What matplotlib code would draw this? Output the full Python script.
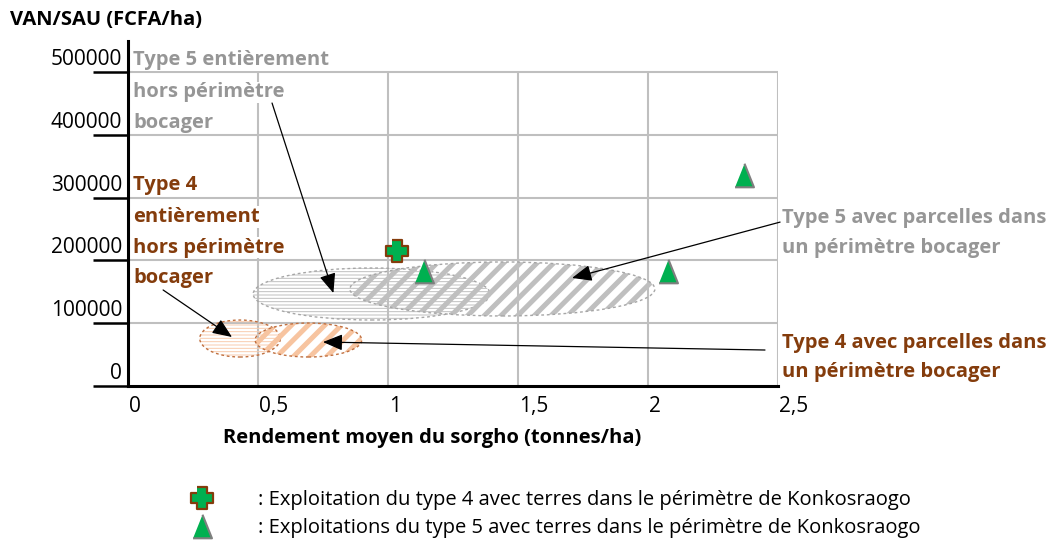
import matplotlib
matplotlib.use("Agg")
import matplotlib.pyplot as plt
from matplotlib.patches import Ellipse
from matplotlib.lines import Line2D
from matplotlib.transforms import ScaledTranslation

plt.rcParams['font.family'] = ['Open Sans', 'DejaVu Sans']

# data
x_ticks = [0, 0.5, 1, 1.5, 2, 2.5]
x_ticklabels = ["0", "0,5", "1", "1,5", "2", "2,5"]
y_ticks = [0, 100000, 200000, 300000, 400000, 500000]
y_ticklabels = ["0", "100000", "200000", "300000", "400000", "500000"]

type4_x = [1.033]
type4_y = [215000]
type5_x = [1.138, 2.077, 2.369]
type5_y = [183000, 182700, 336500]

# zones: type5 hors, type5 avec, type4 hors, type4 avec
zone_x = [0.937, 1.440, 0.431, 0.694]
zone_y = [146500, 154500, 75600, 73200]
zone_w = [0.911, 1.173, 0.31, 0.41]
zone_h = [82800, 86000, 58900, 54100]

GREEN = '#00B050'
BROWN = '#843C0C'
GRAYTXT = '#969696'
GRID = '#BFBFBF'

fig = plt.figure(figsize=(10.46, 5.43), dpi=100)
ax = fig.add_axes([128/1046, 1-386/543, 650/1046, 345.4/543])
ax.set_xlim(0, 2.5)
ax.set_ylim(0, 550000)

# grid only up to 500000
ax.hlines(y_ticks[1:], 0, 2.5, colors=GRID, lw=1.5, zorder=1)
ax.vlines(x_ticks[1:], 0, 500000, colors=GRID, lw=1.5, zorder=1)

for s in ['top', 'right']:
    ax.spines[s].set_visible(False)
for s in ['left', 'bottom']:
    ax.spines[s].set_linewidth(2.2)

ax.set_xticks(x_ticks)
ax.set_xticklabels(x_ticklabels, fontsize=15)
ax.set_yticks(y_ticks)
ax.set_yticklabels(y_ticklabels, fontsize=15)
ax.tick_params(axis='x', length=0, pad=7)
ax.tick_params(axis='y', length=25, width=1.8, pad=-20.9)
for lab in ax.get_xticklabels():
    lab.set_ha('left')
    lab.set_transform(lab.get_transform() + ScaledTranslation(0.01, 0, fig.dpi_scale_trans))
for lab in ax.get_yticklabels():
    lab.set_transform(lab.get_transform() + ScaledTranslation(0, 0.15, fig.dpi_scale_trans))

ax.set_xlabel("Rendement moyen du sorgho (tonnes/ha)", fontsize=14.5, fontweight='bold', va='center')
ax.xaxis.set_label_coords(0.468, -0.1505)
ax.set_ylabel("VAN/SAU (FCFA/ha)", fontsize=14.5, fontweight='bold', rotation=0, ha='left', va='center')
ax.yaxis.set_label_coords(-0.1815, 1.0596)

# zones
hatches = ['-----', '//', '-----', '//']
hcolors = [GRID, GRID, '#F8CBAD', '#F7C4A0']
ecolors = ['#A6A6A6', '#A6A6A6', '#C07040', '#C07040']
hlw = [0.7, 3.6, 0.7, 3.6]
for i in range(4):
    if hasattr(Ellipse, 'set_hatch_linewidth'):
        e = Ellipse((zone_x[i], zone_y[i]), zone_w[i], zone_h[i], facecolor='none',
                    edgecolor=hcolors[i], lw=0, hatch=hatches[i], zorder=2)
        e.set_hatch_linewidth(hlw[i])
    else:
        plt.rcParams['hatch.linewidth'] = hlw[i]
        e = Ellipse((zone_x[i], zone_y[i]), zone_w[i], zone_h[i], facecolor='none',
                    edgecolor=hcolors[i], lw=0, hatch=hatches[i], zorder=2)
    ax.add_patch(e)
    ax.add_patch(Ellipse((zone_x[i], zone_y[i]), zone_w[i], zone_h[i], facecolor='none',
                         edgecolor=ecolors[i], lw=1.0, ls=(0, (2, 2)), zorder=2))

# markers
a = 0.22
cross = [(-a, 0.5), (a, 0.5), (a, a), (0.5, a), (0.5, -a), (a, -a), (a, -0.5),
         (-a, -0.5), (-a, -a), (-0.5, -a), (-0.5, a), (-a, a)]
tri = [(-0.4, -0.5), (0.4, -0.5), (0, 0.5)]
ax.plot(type4_x, type4_y, ls='none', marker=cross, ms=16, mfc=GREEN, mec=BROWN, mew=1.6, zorder=5, clip_on=False)
ax.plot(type5_x, type5_y, ls='none', marker=tri, ms=17, mfc=GREEN, mec='#7F7F7F', mew=1.5, zorder=5, clip_on=False)

# annotations
arrow = dict(arrowstyle='-|>,head_length=0.6,head_width=0.25', color='black', lw=0.9,
             mutation_scale=20, shrinkA=0, shrinkB=0)
box = dict(facecolor='white', edgecolor='none', pad=0.5)

for txt, yy in zip(["Type 5 entièrement", "hors périmètre", "bocager"], [511000, 460000, 411000]):
    ax.text(0.02, yy, txt, color=GRAYTXT, fontsize=14.5, fontweight='bold', va='baseline', bbox=box, zorder=4)
for txt, yy in zip(["Type 4", "entièrement", "hors périmètre", "bocager"], [312000, 261000, 212000, 164000]):
    ax.text(0.02, yy, txt, color=BROWN, fontsize=14.5, fontweight='bold', va='baseline', bbox=box, zorder=4)
for txt, yy in zip(["Type 5 avec parcelles dans", "un périmètre bocager"], [259600, 211800]):
    ax.text(2.515, yy, txt, color=GRAYTXT, fontsize=14.5, fontweight='bold', va='baseline', clip_on=False)
for txt, yy in zip(["Type 4 avec parcelles dans", "un périmètre bocager"], [60500, 14300]):
    ax.text(2.515, yy, txt, color=BROWN, fontsize=14.5, fontweight='bold', va='baseline', clip_on=False)

ax.annotate('', xy=(0.79, 148000), xytext=(0.554, 450600), arrowprops=arrow, annotation_clip=False, zorder=6)
ax.annotate('', xy=(0.40, 78000), xytext=(0.135, 152900), arrowprops=arrow, annotation_clip=False, zorder=6)
ax.annotate('', xy=(1.708, 172000), xytext=(2.508, 261000), arrowprops=arrow, annotation_clip=False, zorder=6)
ax.annotate('', xy=(0.75, 70000), xytext=(2.45, 57300), arrowprops=arrow, annotation_clip=False, zorder=6)

# legend below
handles = [Line2D([], [], ls='none', marker=cross, ms=16, mfc=GREEN, mec=BROWN, mew=1.6),
           Line2D([], [], ls='none', marker=tri, ms=17, mfc=GREEN, mec='#7F7F7F', mew=1.5)]
labels = [": Exploitation du type 4 avec terres dans le périmètre de Konkosraogo",
          ": Exploitations du type 5 avec terres dans le périmètre de Konkosraogo"]
fig.legend(handles, labels, loc='upper left', bbox_to_anchor=(187.5/1046, 1-490/543),
           frameon=False, fontsize=14.5, handlelength=1.45, handletextpad=2.05,
           labelspacing=0.38, borderpad=0, borderaxespad=0)

fig.savefig("out.png", dpi=100)
